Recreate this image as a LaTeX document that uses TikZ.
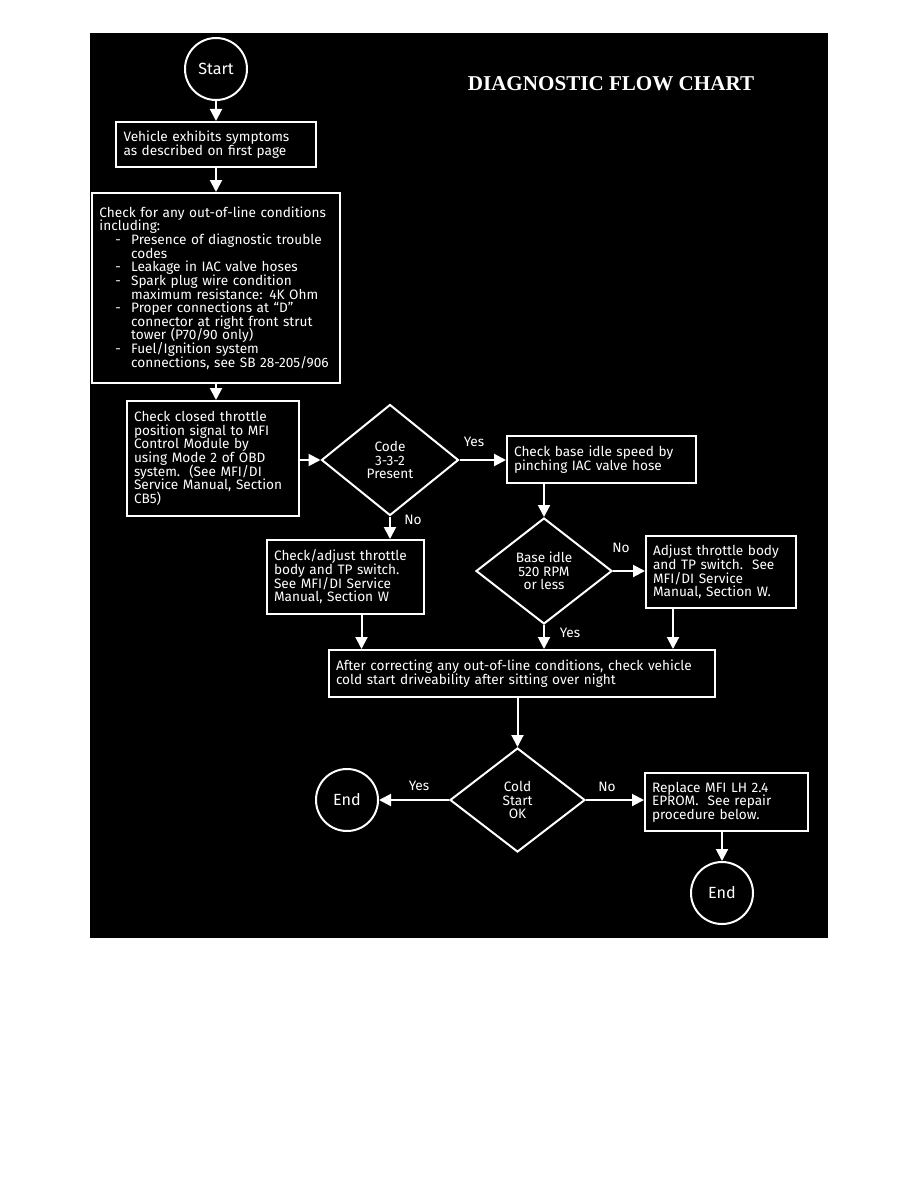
\documentclass[tikz,border=0pt]{standalone}
\usepackage{fontspec}
\setmainfont{Fira Sans}
\newfontfamily\titlefont{Liberation Serif}
\usepackage{tikz}
\usetikzlibrary{shapes.geometric,arrows.meta,positioning}
\newcommand{\bodyfont}{\fontsize{9.7}{9.7}\selectfont\lineskiplimit=-5pt}
\newcommand{\dashitem}{\hspace*{4mm}\makebox[3.9mm][l]{-}}
\newcommand{\contline}{\hspace*{7.9mm}}

\begin{document}
\begin{tikzpicture}[x=0.25mm,y=-0.25mm,
  box/.style={rectangle,draw=white,fill=black,text=white,line width=0.5mm,align=left,inner xsep=1.75mm,font=\bodyfont},
  decision/.style={diamond,draw=white,fill=black,text=white,line width=0.5mm,align=center,inner sep=0pt,font=\bodyfont},
  terminal/.style={circle,draw=white,fill=black,text=white,line width=0.5mm,minimum size=15.5mm,inner sep=0pt,font=\fontsize{11.5}{12}\selectfont},
  arr/.style={-{Triangle[length=3mm,width=3mm]},line width=0.5mm,draw=white},
  lbl/.style={text=white,font=\bodyfont}
]
\useasboundingbox (0,0) rectangle (918,1188);
\fill[black] (90,33) rectangle (828,938);
\node[text=white,font=\titlefont\bfseries\fontsize{15}{16}\selectfont] (title) at (611,84) {DIAGNOSTIC FLOW CHART};
% left column
\node[terminal] (start) at (216,69) {Start};
\node[box,text width=46.25mm,minimum height=11.25mm,below=5mm of start] (symptoms) {Vehicle exhibits symptoms\\as described on first page};
\node[box,text width=58.25mm,minimum height=47.5mm,below=6mm of symptoms] (outline) {Check for any out-of-line conditions\\including:\\
\dashitem Presence of diagnostic trouble\\\contline codes\\
\dashitem Leakage in IAC valve hoses\\
\dashitem Spark plug wire condition\\\contline maximum resistance: 4K Ohm\\
\dashitem Proper connections at ``D''\\\contline connector at right front strut\\\contline tower (P70/90 only)\\
\dashitem Fuel/Ignition system\\\contline connections, see SB 28-205/906};
\node[box,text width=39.5mm,minimum height=28.75mm] (tpsignal) at (213,458.5) {Check closed throttle\\position signal to MFI\\Control Module by\\using Mode 2 of OBD\\system.\ \ (See MFI/DI\\Service Manual, Section\\CB5)};
% code 3-3-2 branch
\node[decision,minimum width=34.25mm,minimum height=27.75mm] (code) at (390,460) {Code\\3-3-2\\Present};
\node[box,text width=43.75mm,minimum height=11.75mm] (baseidle) at (601.5,459.5) {Check base idle speed by\\pinching IAC valve hose};
\node[box,text width=35.75mm,minimum height=18.5mm] (adjust) at (345.5,577) {Check/adjust throttle\\body and TP switch.\\See MFI/DI Service\\Manual, Section W};
\node[decision,minimum width=34mm,minimum height=26.5mm] (idle) at (544,571) {Base idle\\520 RPM\\or less};
\node[box,text width=34mm,minimum height=18mm] (adjusttb) at (721,572) {Adjust throttle body\\and TP switch.\ \ See\\MFI/DI Service\\Manual, Section W.};
% cold start check
\node[box,text width=93mm,minimum height=11.75mm] (after) at (522,673.5) {After correcting any out-of-line conditions, check vehicle\\cold start driveability after sitting over night};
\node[decision,minimum width=33.75mm,minimum height=26mm] (cold) at (517.5,800) {Cold\\Start\\OK};
\node[terminal] (end1) at (347,800) {End};
\node[box,text width=37.25mm,minimum height=14.5mm] (replace) at (726.5,802) {Replace MFI LH 2.4\\EPROM.\ \ See repair\\procedure below.};
\node[terminal] (end2) at (722,893) {End};
% connectors
\draw[arr] (start) -- (symptoms);
\draw[arr] (symptoms) -- (outline);
\draw[arr] (outline.south) -- (outline.south |- tpsignal.north);
\draw[arr] (tpsignal.east |- code.west) -- (code.west);
\draw[arr] (code.east) -- (code.east -| baseidle.west);
\draw[arr] (code.south) -- (code.south |- adjust.north);
\draw[arr] (idle.north |- baseidle.south) -- (idle.north);
\draw[arr] (idle.east) -- (idle.east -| adjusttb.west);
\draw[arr] ([xshift=4mm]adjust.south) -- ([xshift=4mm]adjust.south |- after.north);
\draw[arr] (idle.south) -- (idle.south |- after.north);
\draw[arr] ([xshift=7mm]adjusttb.south west) -- ([xshift=7mm]adjusttb.south west |- after.north);
\draw[arr] (cold.north |- after.south) -- (cold.north);
\draw[arr] (cold.west) -- (end1);
\draw[arr] (cold.east) -- (cold.east -| replace.west);
\draw[arr] (end2.north |- replace.south) -- (end2.north);
% branch labels
\node[lbl] (yes1) at (474,442) {Yes};
\node[lbl] (no1) at (413,520) {No};
\node[lbl] (no2) at (621,548) {No};
\node[lbl] (yes2) at (570,633) {Yes};
\node[lbl] (yes3) at (419,786) {Yes};
\node[lbl] (no3) at (607,787) {No};
\end{tikzpicture}
\end{document}
